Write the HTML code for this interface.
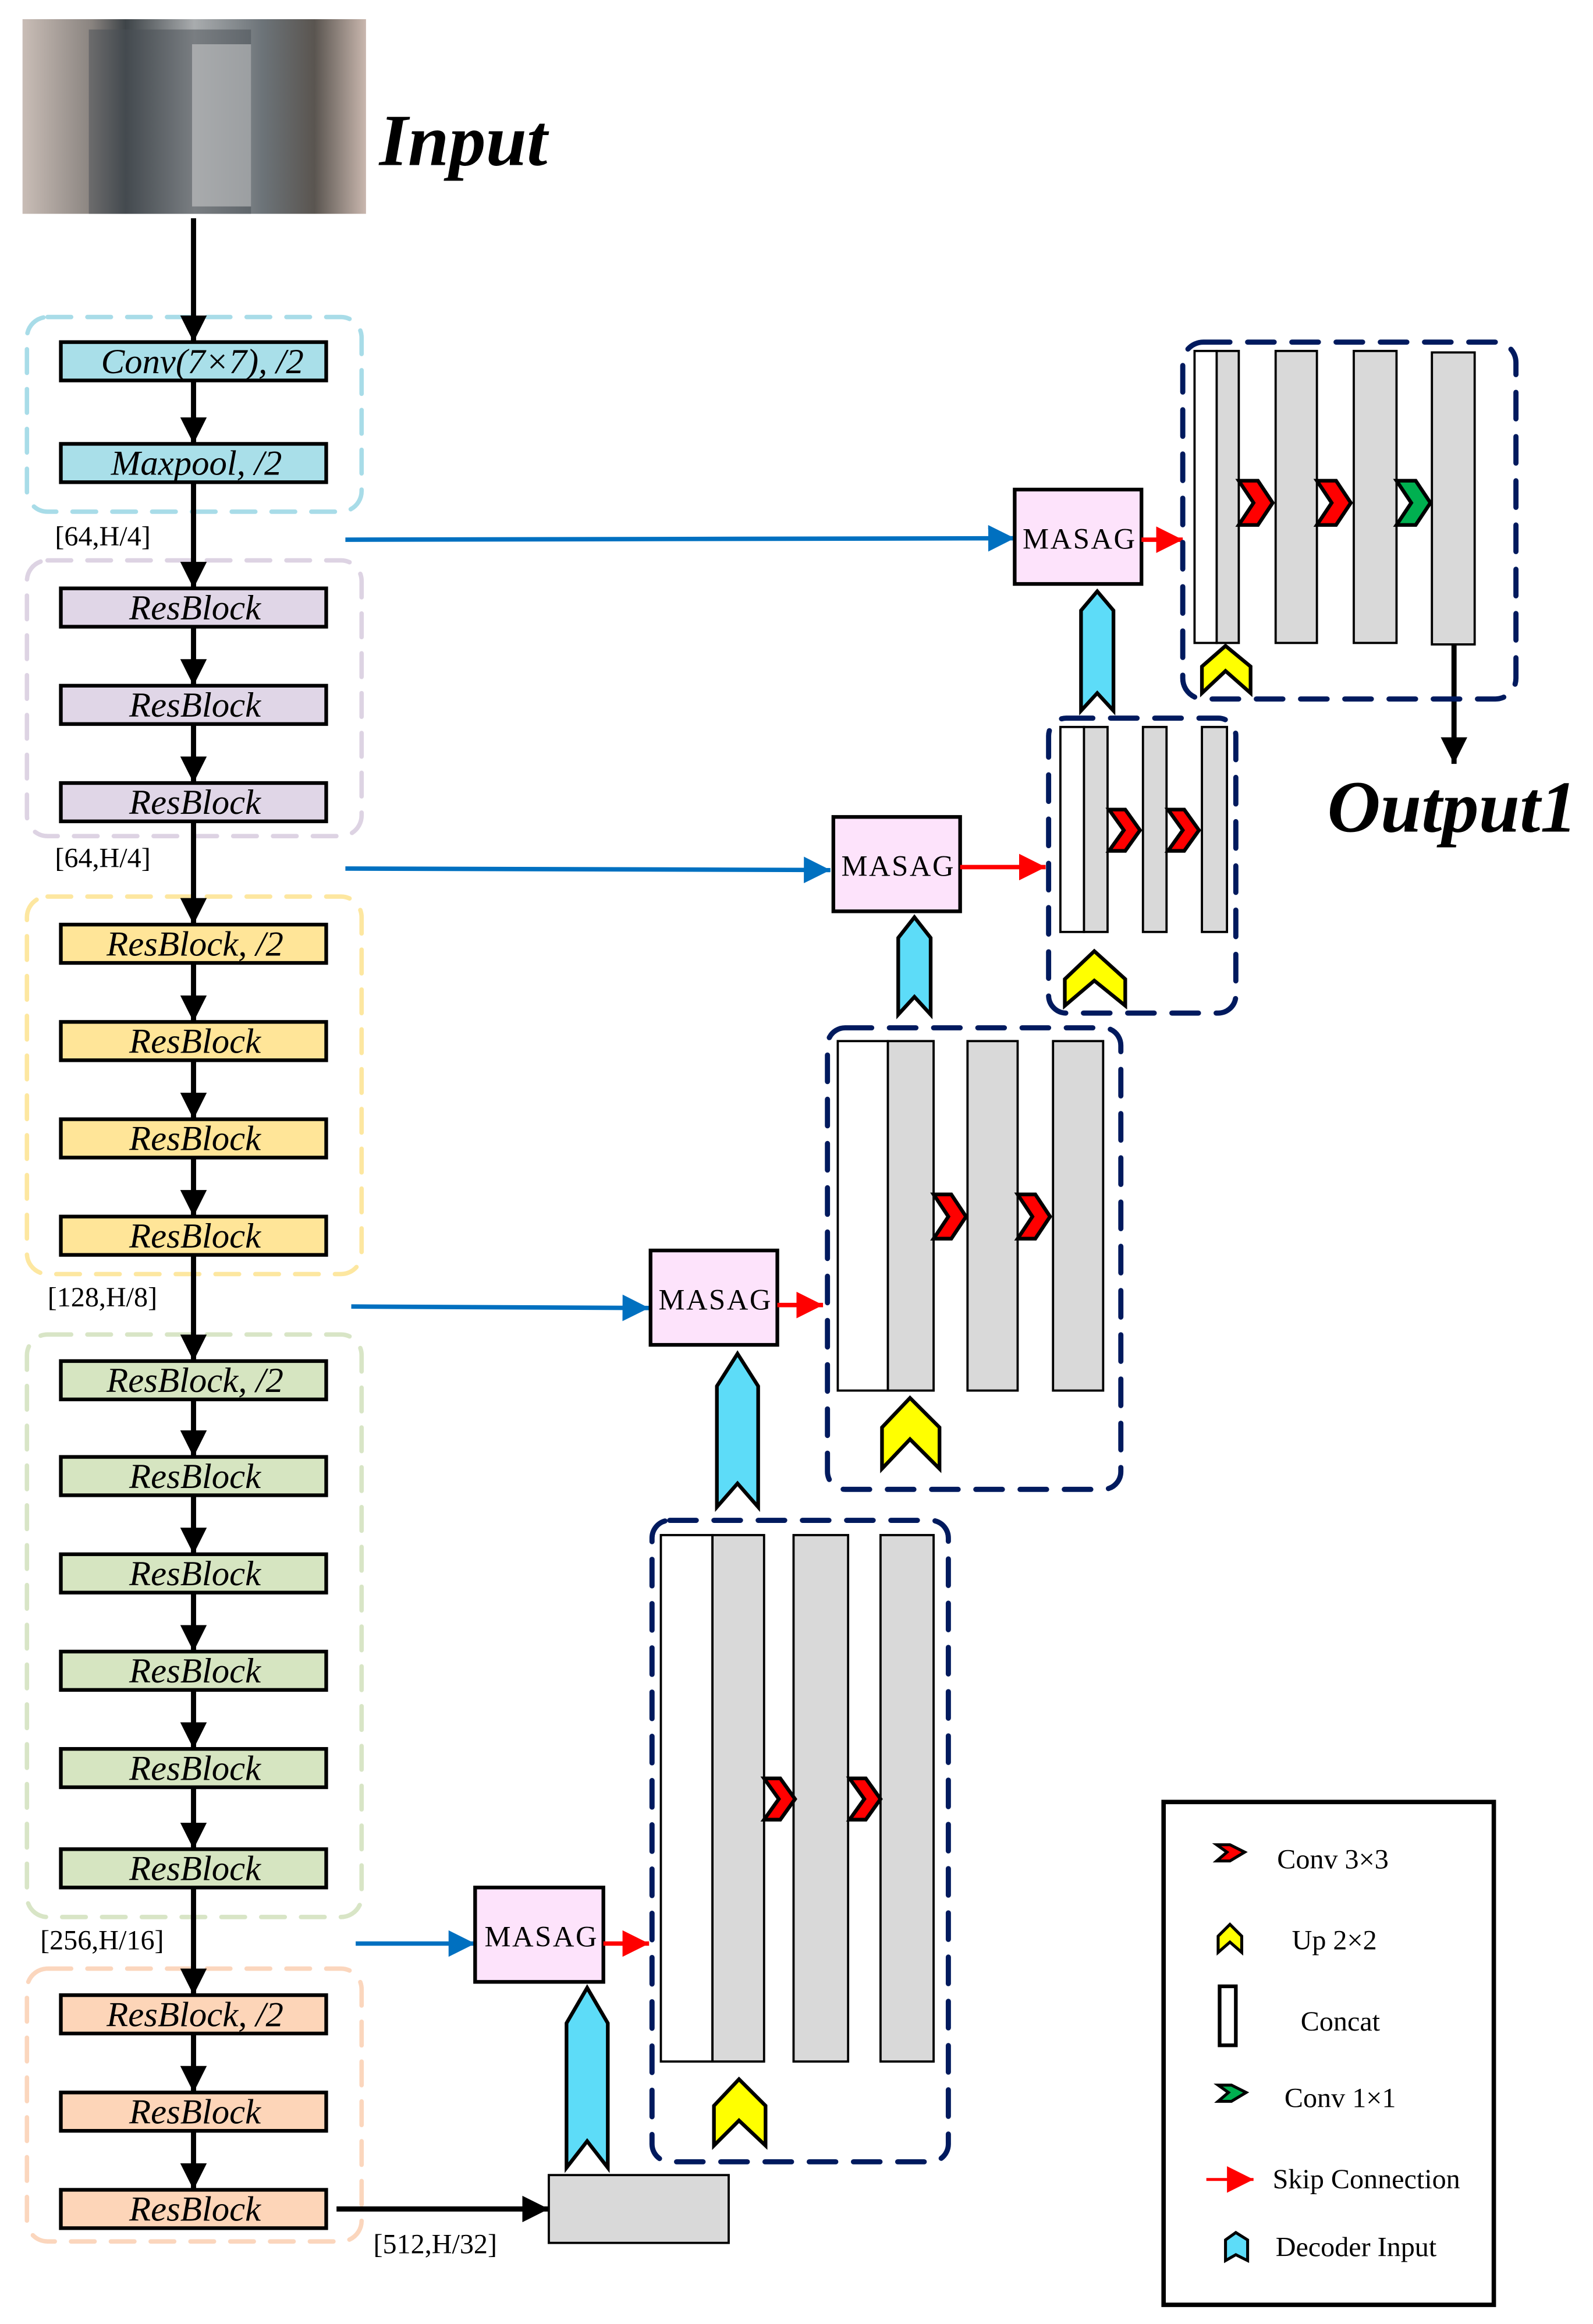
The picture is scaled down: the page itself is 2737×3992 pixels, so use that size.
<!DOCTYPE html>
<html><head><meta charset="utf-8"><style>html,body{margin:0;padding:0;background:#fff}svg{display:block}</style></head>
<body>
<svg width="2737" height="3992" viewBox="0 0 1080 1576" xmlns="http://www.w3.org/2000/svg" font-family="Liberation Serif, serif">
<defs>
<linearGradient id="img" x1="0" x2="1" y1="0" y2="0">
<stop offset="0" stop-color="#c9bdb6"/><stop offset="0.2" stop-color="#8a8480"/><stop offset="0.3" stop-color="#3e4448"/><stop offset="0.5" stop-color="#a9acae"/><stop offset="0.7" stop-color="#6c7378"/><stop offset="0.85" stop-color="#5a5550"/><stop offset="1" stop-color="#c9b7ae"/>
</linearGradient>
<marker id="ab" markerWidth="8" markerHeight="8" refX="7" refY="4" orient="auto" markerUnits="userSpaceOnUse"><path d="M0,0 L8,4 L0,8z" fill="#000"/></marker>
<marker id="abk" viewBox="0 0 10 10" markerWidth="18" markerHeight="18" refX="10" refY="5" orient="auto" markerUnits="userSpaceOnUse"><path d="M0,0 L10,5 L0,10z" fill="#000"/></marker>
<marker id="abl" viewBox="0 0 10 10" markerWidth="18" markerHeight="18" refX="10" refY="5" orient="auto" markerUnits="userSpaceOnUse"><path d="M0,0 L10,5 L0,10z" fill="#0070c0"/></marker>
<marker id="ar" viewBox="0 0 10 10" markerWidth="18" markerHeight="18" refX="10" refY="5" orient="auto" markerUnits="userSpaceOnUse"><path d="M0,0 L10,5 L0,10z" fill="#ff0000"/></marker>
</defs>

<!-- input image -->
<rect x="15" y="13" width="233" height="132" fill="url(#img)"/>
<rect x="60" y="20" width="110" height="125" fill="#4a5055" opacity="0.5"/>
<rect x="130" y="30" width="40" height="110" fill="#d8d8d8" opacity="0.5"/>
<text x="257" y="112" font-size="50" font-weight="bold" font-style="italic">Input</text>

<!-- group outlines -->
<g fill="none" stroke-width="3" stroke-dasharray="16,11" stroke-linecap="round">
<rect x="18" y="215" width="227" height="132" rx="14" stroke="#a8dce8"/>
<rect x="18" y="380" width="227" height="187" rx="14" stroke="#ddd3e3"/>
<rect x="18" y="608" width="227" height="256" rx="14" stroke="#fde7a0"/>
<rect x="18" y="905" width="227" height="395" rx="14" stroke="#d8e5c6"/>
<rect x="18" y="1335" width="227" height="185" rx="14" stroke="#fbd6bd"/>
</g>

<!-- encoder main line arrows -->
<g stroke="#000" stroke-width="3.5" marker-end="url(#abk)">
<line x1="131" y1="148" x2="131" y2="232"/>
<line x1="131" y1="258" x2="131" y2="301"/>
<line x1="131" y1="327" x2="131" y2="399"/>
<line x1="131" y1="425" x2="131" y2="465"/>
<line x1="131" y1="491" x2="131" y2="531"/>
<line x1="131" y1="557" x2="131" y2="627"/>
<line x1="131" y1="653" x2="131" y2="693"/>
<line x1="131" y1="719" x2="131" y2="759"/>
<line x1="131" y1="785" x2="131" y2="825"/>
<line x1="131" y1="851" x2="131" y2="923"/>
<line x1="131" y1="949" x2="131" y2="988"/>
<line x1="131" y1="1014" x2="131" y2="1054"/>
<line x1="131" y1="1080" x2="131" y2="1120"/>
<line x1="131" y1="1146" x2="131" y2="1186"/>
<line x1="131" y1="1212" x2="131" y2="1254"/>
<line x1="131" y1="1280" x2="131" y2="1353"/>
<line x1="131" y1="1379" x2="131" y2="1419"/>
<line x1="131" y1="1445" x2="131" y2="1485"/>
<line x1="228" y1="1498" x2="372" y2="1498"/>
<line x1="986" y1="436" x2="986" y2="518"/>
</g>

<!-- encoder boxes -->
<g stroke="#000" stroke-width="2.5" font-size="24" font-style="italic" text-anchor="middle">
<rect x="41" y="232" width="180" height="26" fill="#a9dfe9"/><text x="137" y="253" stroke="none">Conv(7×7), /2</text>
<rect x="41" y="301" width="180" height="26" fill="#a9dfe9"/><text x="133" y="322" stroke="none">Maxpool, /2</text>
<g fill="#e0d6e7"><rect x="41" y="399" width="180" height="26"/><rect x="41" y="465" width="180" height="26"/><rect x="41" y="531" width="180" height="26"/></g>
<g fill="#ffe598"><rect x="41" y="627" width="180" height="26"/><rect x="41" y="693" width="180" height="26"/><rect x="41" y="759" width="180" height="26"/><rect x="41" y="825" width="180" height="26"/></g>
<g fill="#d6e5c1"><rect x="41" y="923" width="180" height="26"/><rect x="41" y="988" width="180" height="26"/><rect x="41" y="1054" width="180" height="26"/><rect x="41" y="1120" width="180" height="26"/><rect x="41" y="1186" width="180" height="26"/><rect x="41" y="1254" width="180" height="26"/></g>
<g fill="#fdd5b8"><rect x="41" y="1353" width="180" height="26"/><rect x="41" y="1419" width="180" height="26"/><rect x="41" y="1485" width="180" height="26"/></g>
<g stroke="none" fill="#000">
<text x="132" y="420">ResBlock</text><text x="132" y="486">ResBlock</text><text x="132" y="552">ResBlock</text>
<text x="132" y="648">ResBlock, /2</text><text x="132" y="714">ResBlock</text><text x="132" y="780">ResBlock</text><text x="132" y="846">ResBlock</text>
<text x="132" y="944">ResBlock, /2</text><text x="132" y="1009">ResBlock</text><text x="132" y="1075">ResBlock</text><text x="132" y="1141">ResBlock</text><text x="132" y="1207">ResBlock</text><text x="132" y="1275">ResBlock</text>
<text x="132" y="1374">ResBlock, /2</text><text x="132" y="1440">ResBlock</text><text x="132" y="1506">ResBlock</text>
</g>
</g>

<!-- dim labels -->
<g font-size="19">
<text x="37" y="370">[64,H/4]</text>
<text x="37" y="588">[64,H/4]</text>
<text x="32" y="886">[128,H/8]</text>
<text x="27" y="1322">[256,H/16]</text>
<text x="253" y="1528">[512,H/32]</text>
</g>

<!-- blue skip arrows -->
<g stroke="#0070c0" stroke-width="3" marker-end="url(#abl)">
<line x1="234" y1="366" x2="688" y2="365"/>
<line x1="234" y1="589" x2="563" y2="590"/>
<line x1="238" y1="886" x2="440" y2="887"/>
<line x1="241" y1="1318" x2="322" y2="1318"/>
</g>

<!-- MASAG boxes -->
<g stroke="#000" stroke-width="2.5" fill="#fde3fb" font-size="20" letter-spacing="1">
<rect x="688" y="332" width="86" height="64"/><rect x="565" y="554" width="86" height="64"/><rect x="441" y="848" width="86" height="64"/><rect x="322" y="1280" width="87" height="64"/>
<g stroke="none" fill="#000" text-anchor="middle"><text x="732" y="372">MASAG</text><text x="609" y="594">MASAG</text><text x="485" y="888">MASAG</text><text x="367" y="1320">MASAG</text></g>
</g>

<!-- red skip arrows -->
<g stroke="#ff0000" stroke-width="3" marker-end="url(#ar)">
<line x1="774" y1="366" x2="802" y2="366"/>
<line x1="651" y1="588" x2="709" y2="588"/>
<line x1="527" y1="885" x2="558" y2="885"/>
<line x1="409" y1="1318" x2="440" y2="1318"/>
</g>

<!-- decoder dashed boxes -->
<g fill="none" stroke="#001a5e" stroke-width="3.5" stroke-dasharray="18,12" stroke-linecap="round">
<rect x="802" y="232" width="226" height="242" rx="14"/>
<rect x="711" y="487" width="127" height="200" rx="12"/>
<rect x="561" y="697" width="199" height="313" rx="12"/>
<rect x="442" y="1031" width="201" height="435" rx="12"/>
</g>

<!-- decoder bars -->
<g stroke="#000" stroke-width="1.5" fill="#d9d9d9">
<rect x="810" y="238" width="15" height="198" fill="#fff"/><rect x="825" y="238" width="15" height="198"/><rect x="865" y="238" width="28" height="198"/><rect x="918" y="238" width="29" height="198"/><rect x="971" y="239" width="29" height="198"/>
<rect x="719" y="493" width="16" height="139" fill="#fff"/><rect x="735" y="493" width="16" height="139"/><rect x="775" y="493" width="16" height="139"/><rect x="815" y="493" width="17" height="139"/>
<rect x="568" y="706" width="34" height="237" fill="#fff"/><rect x="602" y="706" width="31" height="237"/><rect x="656" y="706" width="34" height="237"/><rect x="714" y="706" width="34" height="237"/>
<rect x="448" y="1041" width="35" height="357" fill="#fff"/><rect x="483" y="1041" width="35" height="357"/><rect x="538" y="1041" width="37" height="357"/><rect x="597" y="1041" width="36" height="357"/>
<rect x="372" y="1475" width="122" height="46"/>
</g>

<!-- chevrons right -->
<g stroke="#000" stroke-width="2.5" stroke-linejoin="miter">
<polygon fill="#ff0000" points="840,326 853,326 863,341 853,356 840,356 850,341"/>
<polygon fill="#ff0000" points="893,326 906,326 916,341 906,356 893,356 903,341"/>
<polygon fill="#00b050" points="947,326 960,326 970,341 960,356 947,356 957,341"/>
<polygon fill="#ff0000" points="752,549 763,549 773,563 763,577 752,577 762,563"/>
<polygon fill="#ff0000" points="792,549 803,549 813,563 803,577 792,577 802,563"/>
<polygon fill="#ff0000" points="633,810 645,810 655,825 645,840 633,840 643,825"/>
<polygon fill="#ff0000" points="690,810 702,810 712,825 702,840 690,840 700,825"/>
<polygon fill="#ff0000" points="518,1206 529,1206 539,1220 529,1234 518,1234 528,1220"/>
<polygon fill="#ff0000" points="576,1206 587,1206 597,1220 587,1234 576,1234 586,1220"/>
</g>

<!-- up chevrons yellow -->
<g stroke="#000" stroke-width="2.5" fill="#ffff00">
<polygon points="815,452 831,438 848,452 848,470 831,455 815,470"/>
<polygon points="722,664 742,645 763,664 763,682 742,665 722,682"/>
<polygon points="598,968 617,948 637,968 637,996 617,976 598,996"/>
<polygon points="484,1428 501,1410 519,1428 519,1455 501,1438 484,1455"/>
</g>

<!-- decoder input cyan -->
<g stroke="#000" stroke-width="2.5" fill="#5ddcf8">
<polygon points="744,401 755,414 755,482 744,470 733,482 733,414"/>
<polygon points="620,622 631,636 631,688 620,676 609,688 609,636"/>
<polygon points="500,918 514,940 514,1022 500,1006 486,1022 486,940"/>
<polygon points="398,1348 412,1372 412,1470 398,1452 384,1470 384,1372"/>
</g>

<text x="900" y="564" font-size="50" font-weight="bold" font-style="italic">Output1</text>

<!-- legend -->
<rect x="789" y="1222" width="224" height="341" fill="none" stroke="#000" stroke-width="3"/>
<g stroke="#000" stroke-width="2">
<polygon fill="#ff0000" points="825,1251 834,1251 844,1256 834,1262 825,1262 832,1256"/>
<polygon fill="#ffff00" points="826,1313 834,1305 842,1313 842,1324 834,1317 826,1324"/>
<rect x="827" y="1347" width="11" height="40" fill="#fff" stroke-width="2.5"/>
<polygon fill="#00b050" points="826,1414 835,1414 845,1419 835,1425 826,1425 833,1419"/>
<polygon fill="#5ddcf8" points="831,1519 838,1514 846,1519 846,1533 838,1529 831,1533"/>
</g>
<line x1="818" y1="1478" x2="850" y2="1478" stroke="#ff0000" stroke-width="2" marker-end="url(#ar)"/>
<g font-size="19">
<text x="866" y="1267">Conv 3×3</text>
<text x="876" y="1322">Up 2×2</text>
<text x="882" y="1377">Concat</text>
<text x="871" y="1429">Conv 1×1</text>
<text x="863" y="1484">Skip Connection</text>
<text x="865" y="1530">Decoder Input</text>
</g>
</svg>
</body></html>
